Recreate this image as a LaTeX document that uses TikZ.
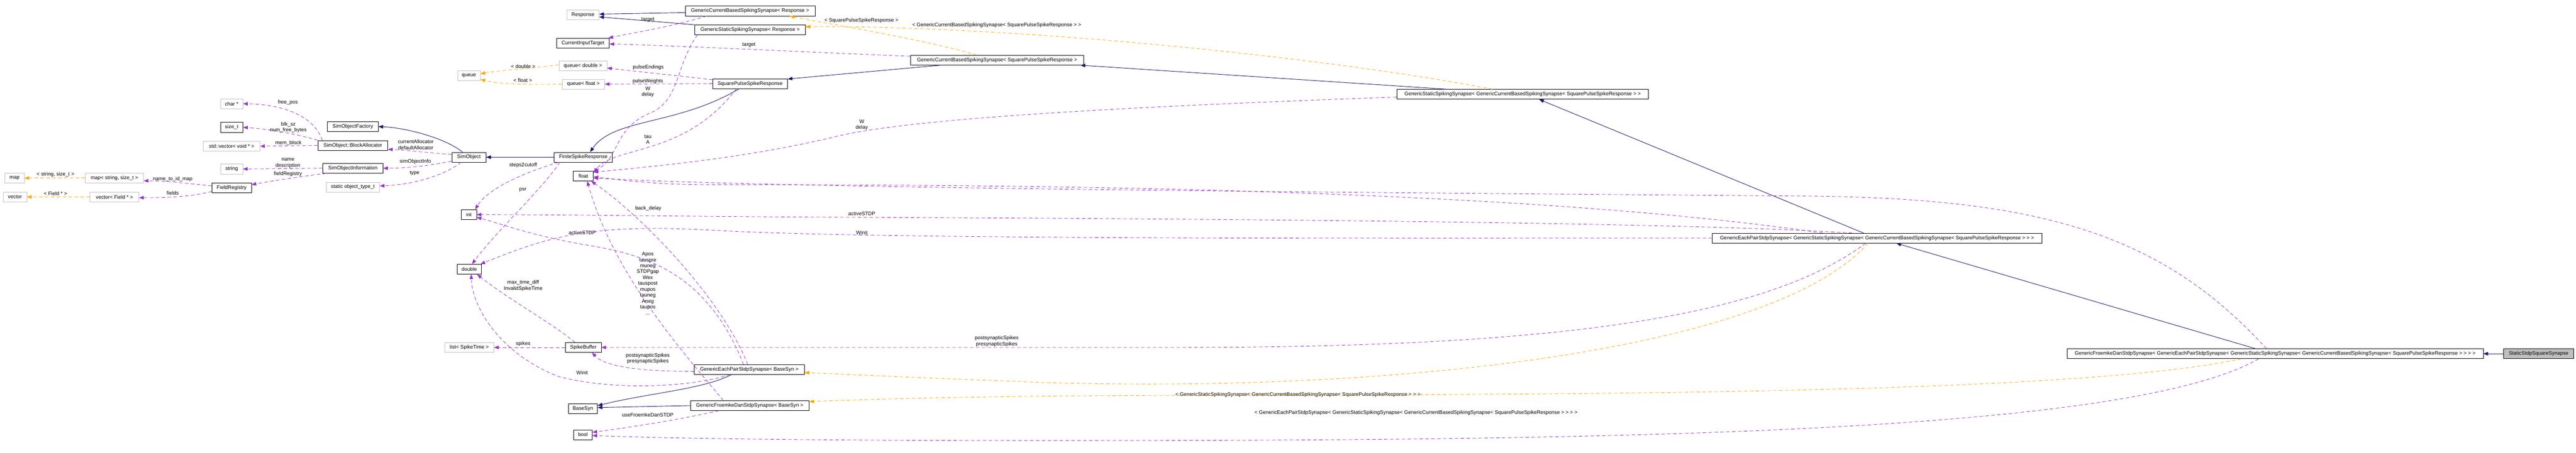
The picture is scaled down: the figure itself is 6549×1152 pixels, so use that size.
\documentclass[tikz,border=0pt]{standalone}
\usepackage{fontspec}
\setmainfont{Liberation Sans}
\usetikzlibrary{arrows.meta}
\definecolor{usecol}{HTML}{9A32CD}
\definecolor{tplcol}{HTML}{FFA500}
\definecolor{inhcol}{HTML}{191970}
\definecolor{extcol}{HTML}{BFBFBF}
\newcommand{\dfont}{\fontsize{13}{15}\selectfont}
\begin{document}
\begin{tikzpicture}[x=1pt,y=-1pt,
  cls/.style={draw=black, line width=0.9pt, fill=white, minimum height=25pt, inner sep=0pt, font=\dfont},
  ext/.style={cls, draw=extcol},
  lbl/.style={align=center, inner sep=0pt, font=\dfont},
  use/.style={draw=usecol, line width=1.1pt, dash pattern=on 9pt off 6pt, -{Triangle[length=12pt,width=9pt]}},
  tpl/.style={draw=tplcol, line width=1.1pt, dash pattern=on 9pt off 6pt, -{Triangle[length=12pt,width=9pt]}},
  inh/.style={draw=inhcol, line width=1.2pt, -{Triangle[length=12pt,width=9pt]}}]
\useasboundingbox (0,0) rectangle (6549,1152);
% ---- nodes
\node[ext, minimum width=49pt] (map) at (37,453) {map};
\node[ext, minimum width=148pt] (mapss) at (291,453) {map< string, size\_t >};
\node[ext, minimum width=60pt] (vector) at (38,501) {vector};
\node[ext, minimum width=124pt] (vecfield) at (291,501) {vector< Field * >};
\node[ext, minimum width=57pt] (charp) at (589,264) {char *};
\node[cls, minimum width=57pt] (sizet) at (589,324) {size\_t};
\node[ext, minimum width=144pt] (vecvoid) at (589,372) {std::vector< void * >};
\node[ext, minimum width=56pt] (string) at (589,430) {string};
\node[cls, minimum width=100pt] (fieldreg) at (589,478) {FieldRegistry};
\node[cls, minimum width=129pt] (sofactory) at (897,322) {SimObjectFactory};
\node[cls, minimum width=178pt] (blockalloc) at (897,370) {SimObject::BlockAllocator};
\node[cls, minimum width=153pt] (soinfo) at (897,428) {SimObjectInformation};
\node[ext, minimum width=136pt] (objtype) at (897,476) {static object\_type\_t};
\node[cls, minimum width=87pt] (simobject) at (1192,400) {SimObject};
\node[ext, minimum width=58pt] (queue) at (1192,192) {queue};
\node[cls, minimum width=39pt] (intn) at (1192,546) {int};
\node[cls, minimum width=62pt] (doublen) at (1193,685) {double};
\node[ext, minimum width=125pt] (listspike) at (1193,884) {list< SpikeTime >};
\node[ext, minimum width=82pt] (response) at (1482,38) {Response};
\node[cls, minimum width=134pt] (cit) at (1482,110) {CurrentInputTarget};
\node[ext, minimum width=122pt] (queued) at (1482,167) {queue< double >};
\node[ext, minimum width=108pt] (queuef) at (1483,214) {queue< float >};
\node[cls, minimum width=148pt] (fsr) at (1483,400) {FiniteSpikeResponse};
\node[cls, minimum width=51pt] (floatn) at (1483,448) {float};
\node[cls, minimum width=91pt] (spikebuf) at (1483,884) {SpikeBuffer};
\node[cls, minimum width=74pt] (basesyn) at (1482,1040) {BaseSyn};
\node[cls, minimum width=47pt] (booln) at (1482,1106) {bool};
\node[cls, minimum width=330pt] (gcbssR) at (1907,28) {GenericCurrentBasedSpikingSynapse< Response >};
\node[cls, minimum width=281pt] (gsssR) at (1907,76) {GenericStaticSpikingSynapse< Response >};
\node[cls, minimum width=190pt] (spsr) at (1907,213) {SquarePulseSpikeResponse};
\node[cls, minimum width=280pt] (gepssB) at (1905,940) {GenericEachPairStdpSynapse< BaseSyn >};
\node[cls, minimum width=302pt] (gfdssB) at (1906,1032) {GenericFroemkeDanStdpSynapse< BaseSyn >};
\node[cls, minimum width=441pt] (gcbssS) at (2535,153) {GenericCurrentBasedSpikingSynapse< SquarePulseSpikeResponse >};
\node[cls, minimum width=640pt] (gsssG) at (3871,240) {GenericStaticSpikingSynapse< GenericCurrentBasedSpikingSynapse< SquarePulseSpikeResponse > >};
\node[cls, minimum width=838pt] (gepssG) at (4772,606) {GenericEachPairStdpSynapse< GenericStaticSpikingSynapse< GenericCurrentBasedSpikingSynapse< SquarePulseSpikeResponse > > >};
\node[cls, minimum width=1058pt] (gfdssG) at (5784,900) {GenericFroemkeDanStdpSynapse< GenericEachPairStdpSynapse< GenericStaticSpikingSynapse< GenericCurrentBasedSpikingSynapse< SquarePulseSpikeResponse > > > >};
\node[cls, draw=black, fill=extcol, minimum width=178pt] (sss) at (6454,900) {StaticStdpSquareSynapse};
% ---- template edges
\draw[tpl] (mapss) -- (map);
\node[lbl] (l1) at (141,444) {< string, size\_t >};
\draw[tpl] (vecfield) -- (vector);
\node[lbl] (l2) at (141,492) {< Field * >};
\draw[tpl] ([yshift=2pt]queued.west) .. controls (1330,176) and (1260,180) .. ([yshift=4pt]queue.east);
\node[lbl] (l3) at (1330,169) {< double >};
\draw[tpl] (queuef.west) .. controls (1330,217) and (1260,212) .. ([yshift=-10pt]queue.east);
\node[lbl] (l4) at (1329,204) {< float >};
\draw[tpl] ([xshift=-52pt]gcbssS.north) .. controls (2350,100) and (2100,60) .. ([xshift=101pt]gcbssR.south);
\node[lbl] (l5) at (2190,52) {< SquarePulseSpikeResponse >};
\draw[tpl] ([xshift=-77pt]gsssG.north) .. controls (3400,150) and (2600,65) .. ([yshift=8pt]gsssR.east);
\node[lbl] (l6) at (2534,64) {< GenericCurrentBasedSpikingSynapse< SquarePulseSpikeResponse > >};
\draw[tpl] ([xshift=-23pt]gepssG.south) .. controls (4500,900) and (3500,1000) .. (2650,973) .. controls (2300,960) and (2100,950) .. ([yshift=-8pt]gepssB.east);
\node[lbl] (l7) at (3300,1005) {< GenericStaticSpikingSynapse< GenericCurrentBasedSpikingSynapse< SquarePulseSpikeResponse > > >};
\draw[tpl] ([xshift=-86pt]gfdssG.south) .. controls (5200,1020) and (3500,1000) .. (2650,1008) .. controls (2300,1012) and (2100,1020) .. ([yshift=10pt]gfdssB.east);
\node[lbl] (l8) at (3600,1050) {< GenericEachPairStdpSynapse< GenericStaticSpikingSynapse< GenericCurrentBasedSpikingSynapse< SquarePulseSpikeResponse > > > >};
% ---- inheritance edges
\draw[inh] ([yshift=-4pt]gcbssR.west) -- ([yshift=2pt]response.east);
\draw[inh] (gsssR.north west) -- ([yshift=-5pt]response.east);
\draw[inh] ([xshift=-16pt]simobject.north) .. controls (1130,350) and (1030,325) .. (sofactory.east);
\draw[inh] (fsr) -- (simobject);
\draw[inh] ([xshift=-28pt]spsr.south) .. controls (1720,320) and (1560,300) .. ([xshift=17pt]fsr.north);
\draw[inh] ([xshift=-144pt]gcbssS.south) -- ([yshift=12pt]spsr.east);
\draw[inh] ([xshift=-192pt]gsssG.north) -- ([xshift=-9pt]gcbssS.south east);
\draw[inh] ([xshift=-34pt]gepssG.north) -- ([xshift=42pt]gsssG.south);
\draw[inh] ([xshift=-50pt]gfdssG.north) -- ([xshift=49pt]gepssG.south);
\draw[inh] (sss) -- (gfdssG);
\draw[inh] ([xshift=-45pt]gepssB.south) .. controls (1790,990) and (1650,1000) .. ([yshift=8pt]basesyn.east);
\draw[inh] (gfdssB.west) -- ([yshift=3pt]basesyn.east);
% ---- usage edges (left part)
\draw[use] ([xshift=12pt]blockalloc.north west) .. controls (800,300) and (730,266) .. (charp.east);
\node[lbl] (l9) at (732,261) {free\_pos};
\draw[use] (blockalloc.north west) .. controls (760,342) and (680,328) .. (sizet.east);
\node[lbl] (l10) at (733,324) {blk\_sz\\num\_free\_bytes};
\draw[use] (blockalloc.west) -- (vecvoid.east);
\node[lbl] (l11) at (733,364) {mem\_block};
\draw[use] (soinfo.west) -- (string.east);
\node[lbl] (l12) at (732,415) {name\\description};
\draw[use] ([xshift=9pt]soinfo.south west) .. controls (760,450) and (680,462) .. ([yshift=8pt]fieldreg.east);
\node[lbl] (l13) at (732,443) {fieldRegistry};
\draw[use] ([yshift=5pt]fieldreg.west) .. controls (470,466) and (420,460) .. ([yshift=-7pt]mapss.east);
\node[lbl] (l14) at (439,456) {name\_to\_id\_map};
\draw[use] ([yshift=-9pt]fieldreg.west) .. controls (490,500) and (430,503) .. ([yshift=-2pt]vecfield.east);
\node[lbl] (l15) at (439,491) {fields};
\draw[use] ([yshift=7pt]simobject.west) .. controls (1080,388) and (1030,382) .. ([yshift=-10pt]blockalloc.east);
\node[lbl] (l16) at (1057,368) {currentAllocator\\defaultAllocator};
\draw[use] ([yshift=-10pt]simobject.west) .. controls (1100,420) and (1040,428) .. (soinfo.east);
\node[lbl] (l17) at (1056,411) {simObjectInfo};
\draw[use] ([xshift=-20pt]simobject.south) .. controls (1140,440) and (1060,470) .. ([yshift=3pt]objtype.east);
\node[lbl] (l18) at (1054,441) {type};
\draw[use] ([xshift=-63pt]fsr.south) .. controls (1330,440) and (1240,480) .. ([xshift=16pt]intn.north);
\node[lbl] (l19) at (1330,420) {steps2cutoff};
\draw[use] ([xshift=-60pt]fsr.south) .. controls (1380,480) and (1260,590) .. ([xshift=7pt]doublen.north);
\node[lbl] (l20) at (1329,483) {psr};
\draw[use] ([yshift=10pt]spsr.west) .. controls (1720,192) and (1600,180) .. ([yshift=-6pt]queued.east);
\node[lbl] (l21) at (1648,172) {pulseEndings};
\draw[use] (spsr.west) -- (queuef.east);
\node[lbl] (l22) at (1647,207) {pulseWeights};
\draw[use] ([xshift=-35pt]spsr.south) .. controls (1740,400) and (1560,370) .. ([yshift=8pt]floatn.east);
\node[lbl] (l23) at (1647,355) {tau\\A};
\draw[use] ([xshift=-111pt]gcbssR.south) .. controls (1700,70) and (1600,85) .. ([xshift=-3pt]cit.north east);
\node[lbl] (l24) at (1647,50) {target};
\draw[use] ([xshift=-134pt]gsssR.south) .. controls (1715,170) and (1730,260) .. (1647,290) .. controls (1560,330) and (1575,400) .. ([yshift=11pt]floatn.east);
\node[lbl] (l25) at (1647,234) {W\\delay};
\draw[use] ([yshift=10pt]gcbssS.west) .. controls (2100,135) and (1700,115) .. ([yshift=-2pt]cit.east);
\node[lbl] (l26) at (1904,115) {target};
\draw[use] ([yshift=-7pt]gsssG.west) .. controls (2900,270) and (2300,300) .. (2115,350) .. controls (1900,400) and (1700,420) .. ([yshift=10pt]floatn.east);
\node[lbl] (l27) at (2191,318) {W\\delay};
\draw[use] (spikebuf.west) -- (listspike.east);
\node[lbl] (l28) at (1330,875) {spikes};
\draw[use] ([xshift=-21pt]spikebuf.north) .. controls (1400,820) and (1290,760) .. ([xshift=20pt]doublen.south);
\node[lbl] (l29) at (1330,727) {max\_time\_diff\\InvalidSpikeTime};
\draw[use] ([yshift=-5pt]gepssB.west) .. controls (1640,945) and (1540,935) .. ([xshift=22pt]spikebuf.south);
\node[lbl] (l30) at (1647,912) {postsynapticSpikes\\presynapticSpikes};
\draw[use] ([xshift=-49pt]gepssB.south) .. controls (1760,985) and (1560,995) .. (1420,958) .. controls (1270,900) and (1200,780) .. ([xshift=5pt]doublen.south);
\node[lbl] (l31) at (1480,948) {Winit};
\draw[use] ([xshift=-79pt]gfdssB.south) .. controls (1720,1070) and (1580,1090) .. ([yshift=6pt]booln.east);
\node[lbl] (l32) at (1647,1056) {useFroemkeDanSTDP};
\draw[use] ([xshift=-4pt]gepssB.north) .. controls (1830,750) and (1620,540) .. ([xshift=20pt]floatn.south);
\node[lbl] (l33) at (1647,721) {Apos\\tauspre\\muneg\\STDPgap\\Wex\\tauspost\\mupos\\tauneg\\Aneg\\taupos\\...};
\draw[use] ([xshift=-67pt]gfdssB.north) .. controls (1740,900) and (1560,700) .. ([xshift=10pt]floatn.south);
\draw[use] ([xshift=-15pt]gepssB.north) .. controls (1800,700) and (1650,650) .. (1500,625) .. controls (1350,600) and (1260,565) .. ([yshift=-7pt]intn.east);
\node[lbl] (l34) at (1480,592) {activeSTDP};
% ---- usage edges (right part)
\draw[use] ([xshift=-138pt]gepssG.north) .. controls (3800,470) and (2400,470) .. (1800,470) .. controls (1650,470) and (1560,455) .. ([yshift=-2pt]floatn.east);
\draw[use] ([xshift=-63pt]gepssG.north) .. controls (4200,560) and (2600,555) .. (2000,552) .. controls (1600,549) and (1400,546) .. (intn.east);
\node[lbl] (l35) at (1648,531) {back\_delay};
\node[lbl] (l36) at (2191,544) {activeSTDP};
\draw[use] (gepssG.west) .. controls (3500,606) and (2200,610) .. (1800,585) .. controls (1500,570) and (1400,600) .. ([xshift=-3pt]doublen.north east);
\node[lbl] (l37) at (2191,592) {Winit};
\draw[use] ([xshift=-29pt]gepssG.south) .. controls (4500,800) and (4000,884) .. (3000,884) -- (spikebuf.east);
\node[lbl] (l38) at (2534,868) {postsynapticSpikes\\presynapticSpikes};
\draw[use] ([xshift=-22pt]gfdssG.north) .. controls (5500,600) and (5200,505) .. (4600,499) .. controls (3500,490) and (2000,480) .. ([yshift=-5pt]floatn.east);
\draw[use] ([xshift=-42pt]gfdssG.south) .. controls (5400,1110) and (4000,1121) .. (2650,1121) .. controls (1900,1121) and (1600,1112) .. ([yshift=-2pt]booln.east);
\end{tikzpicture}
\end{document}
